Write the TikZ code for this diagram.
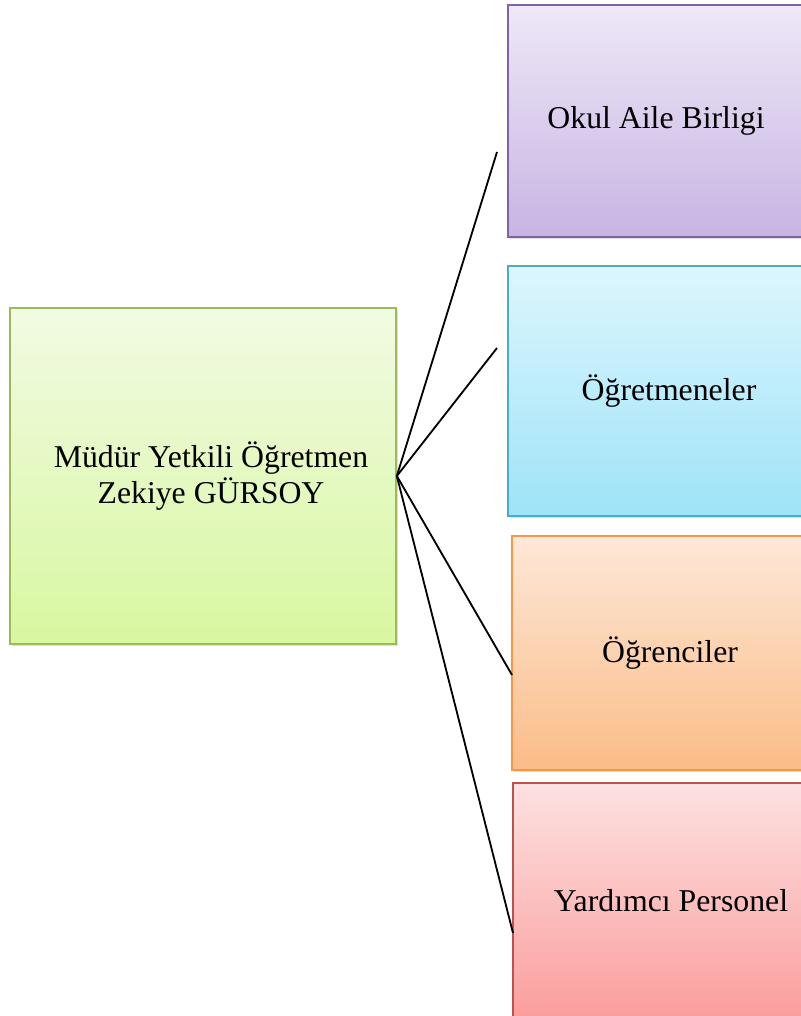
\documentclass[tikz,border=0pt]{standalone}
\usepackage{fontspec}
\setmainfont{Liberation Serif}
\usetikzlibrary{shadows}

\definecolor{greentop}{HTML}{F1FBE3}
\definecolor{greenbot}{HTML}{D8F7A0}
\definecolor{greenline}{HTML}{9BBB59}
\definecolor{purpletop}{HTML}{EEE8F7}
\definecolor{purplebot}{HTML}{C8B4E3}
\definecolor{purpleline}{HTML}{8064A2}
\definecolor{cyantop}{HTML}{DDF6FD}
\definecolor{cyanbot}{HTML}{9EE3F8}
\definecolor{cyanline}{HTML}{4BACC6}
\definecolor{orangetop}{HTML}{FDE8D8}
\definecolor{orangebot}{HTML}{FBBC87}
\definecolor{orangeline}{HTML}{F79646}
\definecolor{redtop}{HTML}{FDE1E1}
\definecolor{redbot}{HTML}{FA9E9D}
\definecolor{redline}{HTML}{C0504D}

\begin{document}
\begin{tikzpicture}[
    box/.style={draw, line width=1.2pt, align=center, inner sep=0pt,
        font=\fontsize{22.6}{25.6}\selectfont,
        drop shadow={shadow xshift=0.06cm, shadow yshift=-0.06cm, opacity=0.25}},
    link/.style={line width=1.3pt}
]
    \useasboundingbox (0,0) rectangle (20,25.4);

    % Head of the school
    \node[box, minimum width=9.65cm, minimum height=8.4cm, draw=greenline,
        top color=greentop, bottom color=greenbot] (mudur) at (5.075,13.5)
        {\hspace*{0.4cm}Müdür Yetkili Öğretmen\\\hspace*{0.4cm}Zekiye GÜRSOY};

    % Right column
    \node[box, minimum width=7.4cm, minimum height=5.8cm, draw=purpleline,
        top color=purpletop, bottom color=purplebot] (aile) at (16.4,22.375)
        {\raisebox{-0.1cm}{Okul Aile Birligi}};
    \node[box, minimum width=8.05cm, minimum height=6.25cm, draw=cyanline,
        top color=cyantop, bottom color=cyanbot] (ogretmen) at (16.725,15.625)
        {Öğretmeneler};
    \node[box, minimum width=7.9cm, minimum height=5.85cm, draw=orangeline,
        top color=orangetop, bottom color=orangebot] (ogrenci) at (16.75,9.075)
        {Öğrenciler};
    \node[box, minimum width=7.9cm, minimum height=5.875cm, draw=redline,
        top color=redtop, bottom color=redbot] (personel) at (16.775,2.8875)
        {Yardımcı Personel};

    % Ends of the connectors
    \coordinate (aileend) at (12.425,21.6);
    \coordinate (ogretmenend) at (12.425,16.7);
    \coordinate (ogrenciend) at (12.8,8.525);
    \coordinate (personelend) at (12.825,2.075);

    % Connectors
    \draw[link] (mudur.east) -- (aileend);
    \draw[link] (mudur.east) -- (ogretmenend);
    \draw[link] (mudur.east) -- (ogrenciend);
    \draw[link] (mudur.east) -- (personelend);
\end{tikzpicture}
\end{document}
